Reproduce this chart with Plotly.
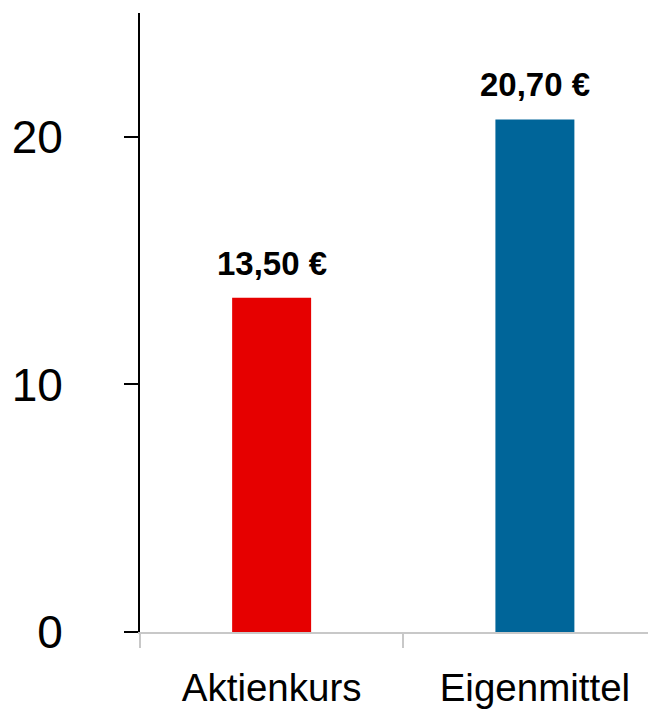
import plotly.graph_objects as go

categories = ["Aktienkurs", "Eigenmittel"]
values = [13.50, 20.70]
value_labels = ["13,50 €", "20,70 €"]
bar_colors = ["#E60000", "#006599"]
y_tickvals = [0, 10, 20]

FONT = "Arial, 'Liberation Sans', sans-serif"

fig = go.Figure()
fig.add_trace(go.Bar(
    x=categories,
    y=values,
    marker=dict(color=bar_colors, line=dict(width=0)),
    width=0.3,
    hoverinfo="skip",
))

for cat, val, lab in zip(categories, values, value_labels):
    fig.add_annotation(
        x=cat, y=val, text=f"<b>{lab}</b>", showarrow=False,
        xanchor="center", yanchor="bottom", yshift=14,
        font=dict(family=FONT, size=33, color="#000000"),
    )

fig.update_layout(
    width=656, height=710,
    margin=dict(l=132, r=8, t=5, b=86),
    paper_bgcolor="white", plot_bgcolor="white",
    showlegend=False,
    font=dict(family=FONT, color="#000000"),
    xaxis=dict(
        range=[-0.5, 1.46],
        showline=True, linecolor="#C8C8C8", linewidth=2,
        ticks="outside", tickson="boundaries", ticklen=14, tickwidth=2,
        tickcolor="#C8C8C8",
        tickfont=dict(family=FONT, size=38.5, color="#000000"),
        ticklabelstandoff=21,
        showgrid=False, zeroline=False,
    ),
    yaxis=dict(
        range=[0, 25],
        tickvals=y_tickvals,
        ticktext=[str(v) for v in y_tickvals],
        showline=True, linecolor="#000000", linewidth=2,
        ticks="outside", ticklen=14, tickwidth=2, tickcolor="#000000",
        tickfont=dict(family=FONT, size=46, color="#000000"),
        ticklabelstandoff=52,
        showgrid=False, zeroline=False,
    ),
)

fig.write_html("out.html")
